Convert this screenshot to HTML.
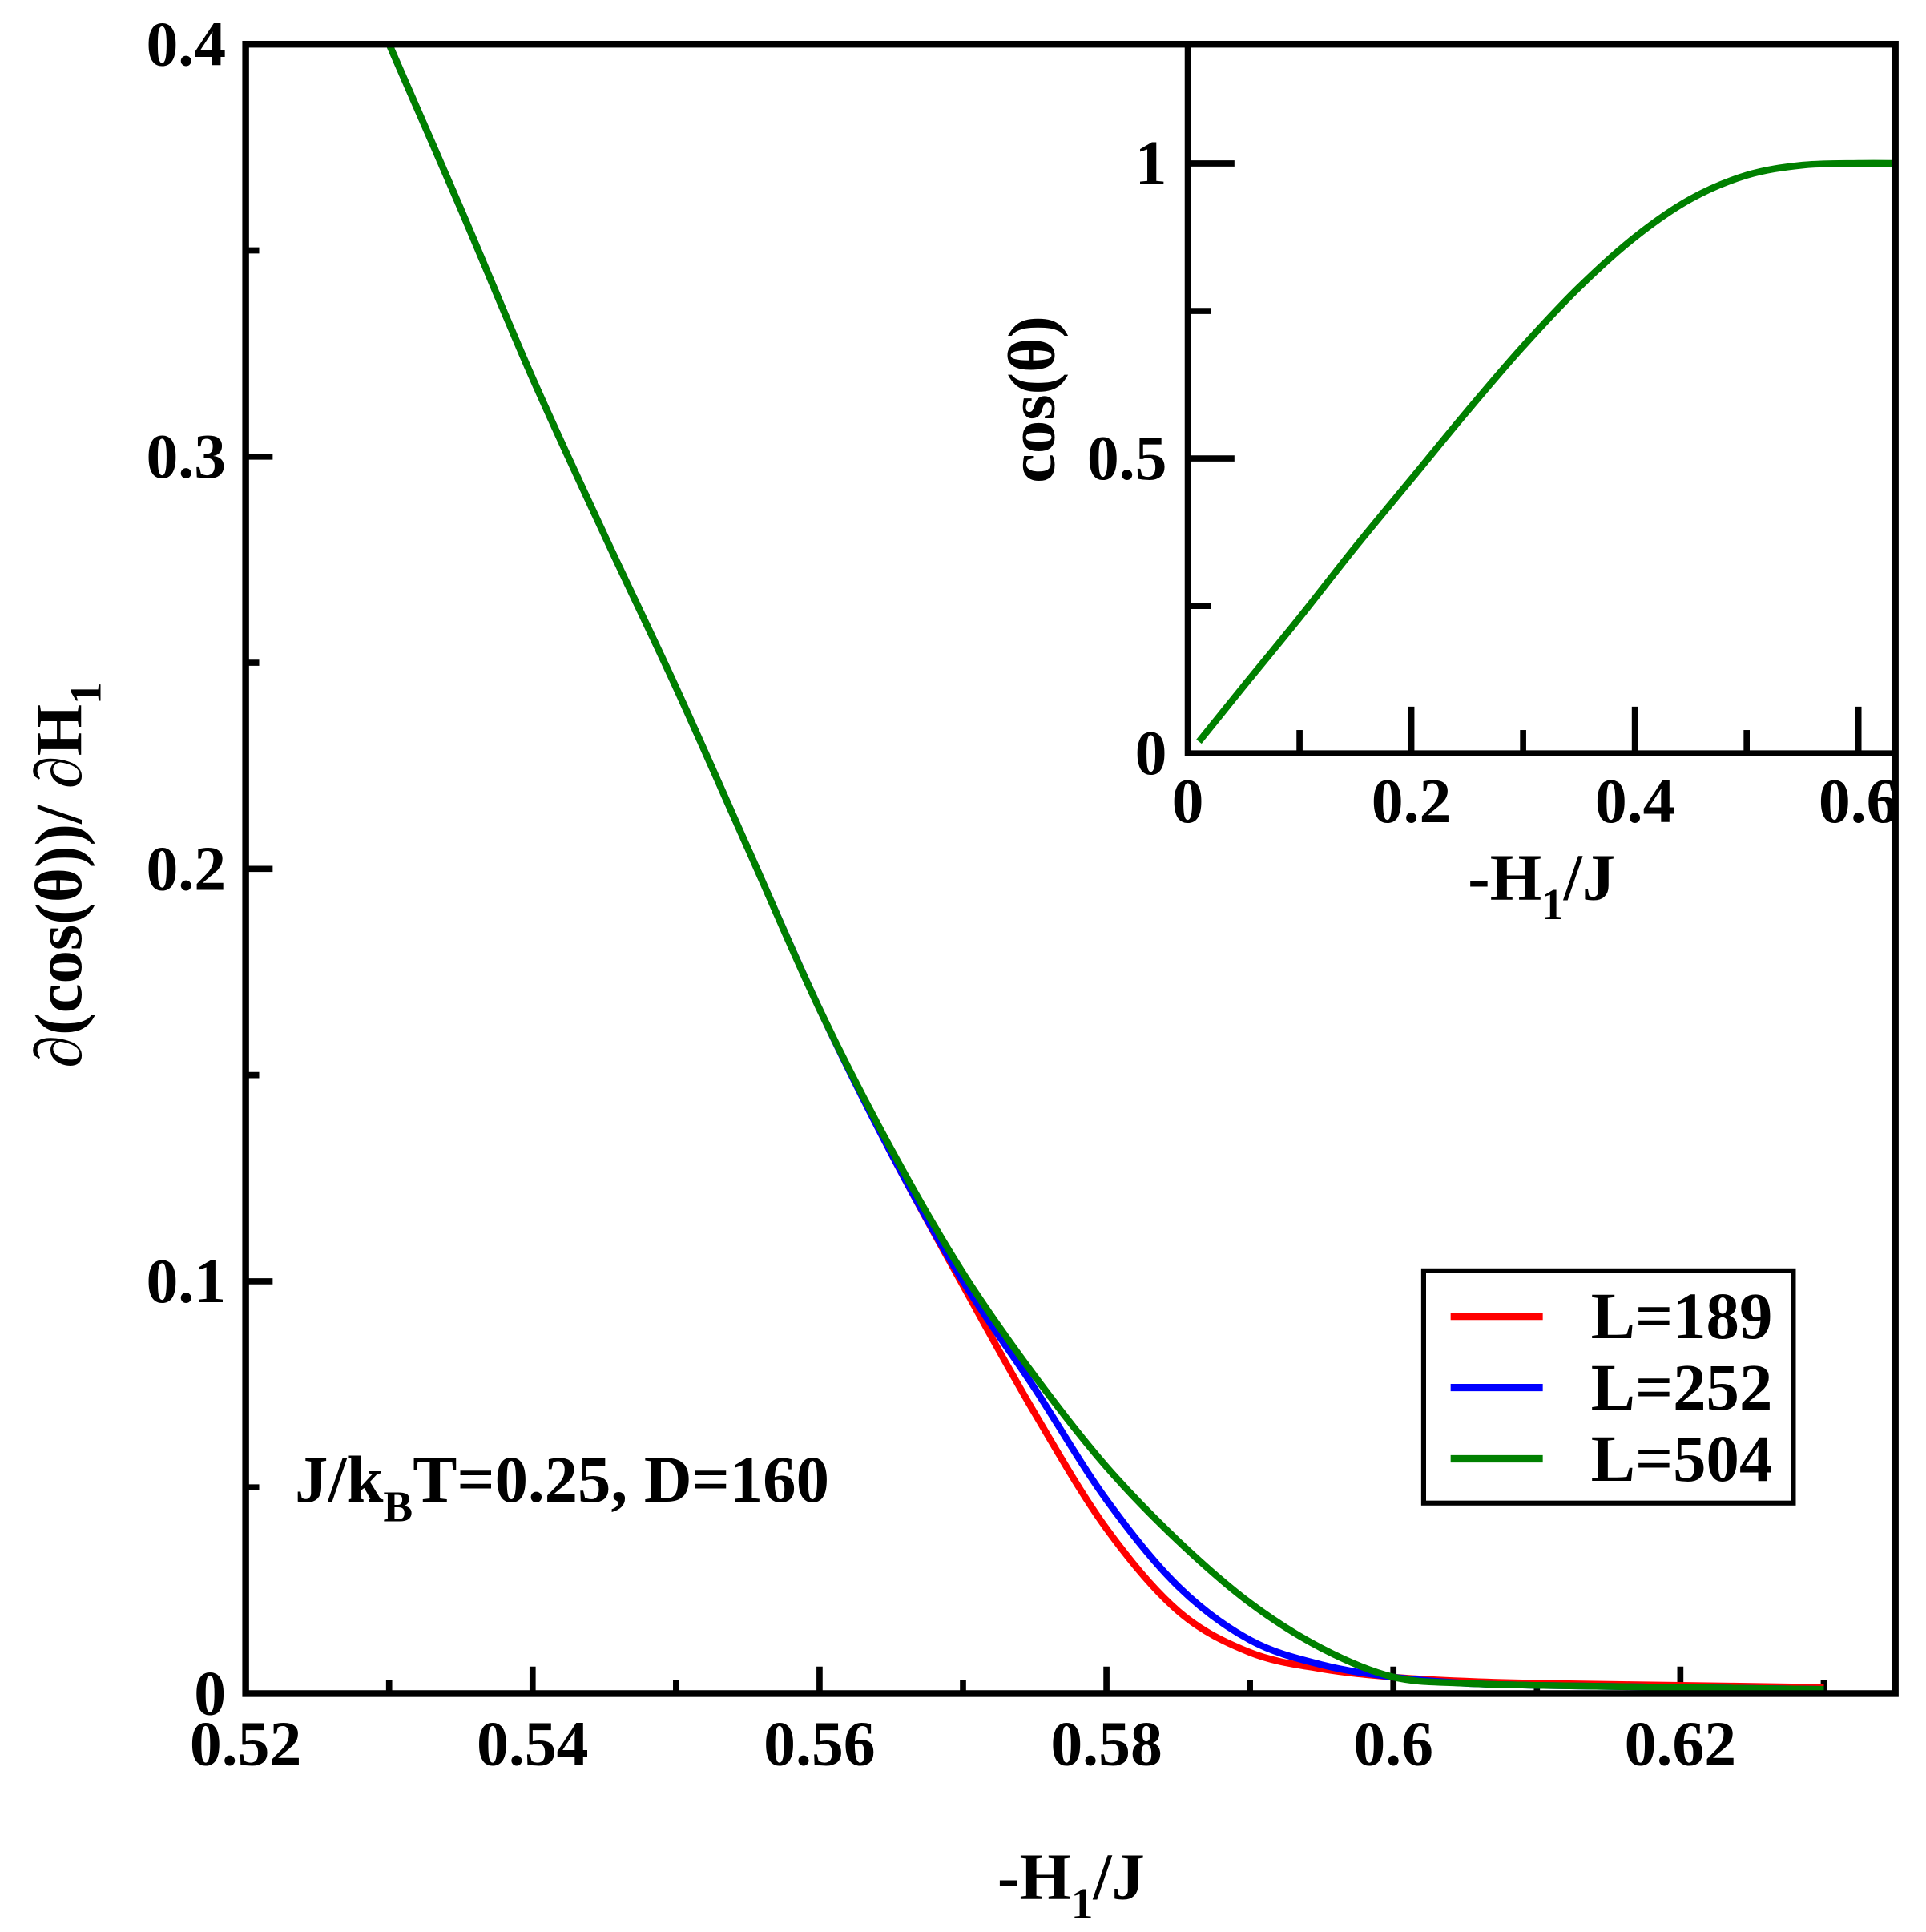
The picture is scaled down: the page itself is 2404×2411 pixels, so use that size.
<!DOCTYPE html>
<html><head><meta charset="utf-8"><style>
html,body{margin:0;padding:0;background:#fff;}
svg{display:block;}
text{font-family:"Liberation Serif",serif;font-weight:bold;fill:#000;}
</style></head><body>
<svg id="chart" width="2404" height="2411" viewBox="0 0 1568 1572" preserveAspectRatio="none" xmlns="http://www.w3.org/2000/svg">
<g id="main"></g>
<g id="inset"></g>
<g id="top"></g>
</svg>
<script>
const mainX = [0.53,0.535,0.54,0.545,0.55,0.555,0.56,0.565,0.57,0.575,0.58,0.585,0.59,0.595,0.6,0.605,0.61,0.62,0.63];
const greenVals = [0.4,0.36,0.319,0.281,0.244,0.205,0.166,0.132,0.102,0.077,0.055,0.037,0.022,0.011,0.004,0.0025,0.002,0.0015,0.001];
const blueVals  = [0.4,0.36,0.319,0.281,0.244,0.205,0.166,0.131,0.1,0.074,0.047,0.026,0.013,0.007,0.004,0.0025,0.002,0.0015,0.001];
const redVals   = [0.4,0.36,0.319,0.281,0.244,0.205,0.166,0.131,0.099,0.068,0.040,0.020,0.010,0.006,0.004,0.003,0.0025,0.002,0.0015];
const mainXTicks = [0.52,0.54,0.56,0.58,0.6,0.62];
const mainXTickLabels = ["0.52","0.54","0.56","0.58","0.6","0.62"];
const mainYTicks = [0,0.1,0.2,0.3,0.4];
const mainYTickLabels = ["0","0.1","0.2","0.3","0.4"];
const insetX = [0.01,0.05,0.1,0.15,0.2,0.25,0.3,0.35,0.4,0.45,0.5,0.55,0.6,0.633];
const insetVals = [0.02,0.114,0.23,0.35,0.465,0.58,0.69,0.79,0.875,0.94,0.98,0.997,1.0,1.0];
const insetXTicks = [0,0.2,0.4,0.6];
const insetXTickLabels = ["0","0.2","0.4","0.6"];
const insetYTicks = [0,0.5,1];
const insetYTickLabels = ["0","0.5","1"];

const NS="http://www.w3.org/2000/svg";
function mk(parent,tag,attrs,txt){const e=document.createElementNS(NS,tag);for(const k in attrs)e.setAttribute(k,attrs[k]);if(txt!==undefined)e.textContent=txt;parent.appendChild(e);return e;}

const L=200,R=1543,T=36,B=1378;
const xs=v=>L+(v-0.52)/0.01*116.8;
const ys=v=>B-v/0.1*335.5;
const gm=document.getElementById('main');
const gt=document.getElementById('top');
function line(g,x1,y1,x2,y2,w){return mk(g,'line',{x1,y1,x2,y2,stroke:'#000','stroke-width':w});}
for(let v=0.52;v<0.6351;v+=0.01){const x=xs(v);const maj=Math.round(v*100)%2===0;
 const t=line(gm,x,B,x,B-(maj?22:11),5);
 
 }
for(let v=0;v<0.4001;v+=0.05){const y=ys(v);const maj=Math.round(v*100)%10===0;
 const t=line(gm,L,y,L+(maj?22:11),y,5);
 
 }
mainXTicks.forEach((v,i)=>{const t=mk(gm,'text',{x:xs(v),y:1436,'text-anchor':'middle','font-size':52},mainXTickLabels[i]);
 
 });
mainYTicks.forEach((v,i)=>{const t=mk(gm,'text',{x:184,y:ys(v)+17,'text-anchor':'end','font-size':52},mainYTickLabels[i]);
 
 });
function path(g,xa,ya,fx,fy,color,name){
 const P=xa.map((x,i)=>[fx(x),fy(ya[i])]);
 let d='M'+P[0][0].toFixed(1)+','+P[0][1].toFixed(1);
 for(let i=0;i<P.length-1;i++){const p0=P[Math.max(0,i-1)],p1=P[i],p2=P[i+1],p3=P[Math.min(P.length-1,i+2)];
  const c1=[p1[0]+(p2[0]-p0[0])/6,p1[1]+(p2[1]-p0[1])/6],c2=[p2[0]-(p3[0]-p1[0])/6,p2[1]-(p3[1]-p1[1])/6];
  d+='C'+c1.map(n=>n.toFixed(1)).join(',')+' '+c2.map(n=>n.toFixed(1)).join(',')+' '+p2[0].toFixed(1)+','+p2[1].toFixed(1);}
 const p=mk(g,'path',{d,fill:'none',stroke:color,'stroke-width':5.5,'stroke-linejoin':'round'});
 
 return p;}
path(gm,mainX,redVals,xs,ys,'#ff0000','series-l189');
path(gm,mainX,blueVals,xs,ys,'#0000ff','series-l252');
path(gm,mainX,greenVals,xs,ys,'#008000','series-l504');

const xl=mk(gm,'text',{x:872,y:1545,'text-anchor':'middle','font-size':54});


xl.innerHTML='-H<tspan font-size="36" dy="16">1</tspan><tspan dy="-16">/J</tspan>';
const yl=mk(gm,'text',{x:0,y:0,'text-anchor':'middle','font-size':54,transform:'translate(66,712) rotate(-90)'});


yl.innerHTML='∂(cos(θ))/ ∂H<tspan font-size="36" dy="16">1</tspan>';
const an=mk(gm,'text',{x:240,y:1222,'font-size':54});


an.innerHTML='J/k<tspan font-size="36" dy="16">B</tspan><tspan dy="-16">T=0.25, D=160</tspan>';

const lg=mk(gm,'g',{});


mk(lg,'rect',{x:1159,y:1034,width:301,height:189,fill:'#fff',stroke:'#000','stroke-width':4});
[['#ff0000','L=189',1071],['#0000ff','L=252',1129],['#008000','L=504',1187]].forEach(([c,t,y])=>{
 const e=mk(lg,'g',{});
 
 
 mk(e,'line',{x1:1181,y1:y,x2:1256,y2:y,stroke:c,'stroke-width':6});
 mk(e,'text',{x:1443,y:y+18,'text-anchor':'end','font-size':54},t);});

const gi=document.getElementById('inset');
const IL=967,IR=1543,IT=36,IB=613;
const ixs=v=>IL+v/0.1*91;
const iys=v=>IB-v*480;
mk(gi,'rect',{x:IL,y:IT,width:IR-IL,height:IB-IT,fill:'#fff'});
for(let v=0.1;v<0.6351;v+=0.1){const x=ixs(v);const maj=Math.round(v*10)%2===0;
 const t=line(gi,x,IB,x,IB-(maj?38:19),5);
 
 }
for(let v=0.25;v<1.2;v+=0.25){const y=iys(v);const maj=Math.round(v*100)%50===0;
 const t=line(gi,IL,y,IL+(maj?38:19),y,5);
 
 }
insetXTicks.forEach((v,i)=>{const t=mk(gi,'text',{x:ixs(v),y:669,'text-anchor':'middle','font-size':52},insetXTickLabels[i]);
 
 });
insetYTicks.forEach((v,i)=>{const t=mk(gi,'text',{x:950,y:iys(v)+17,'text-anchor':'end','font-size':52},insetYTickLabels[i]);
 
 });
path(gi,insetX,insetVals,ixs,iys,'#008000','inset-series');
const ifr=mk(gi,'polyline',{points:`${IL},${IT} ${IL},${IB} ${IR},${IB}`,fill:'none',stroke:'#000','stroke-width':5});


const ixl=mk(gi,'text',{x:1255,y:732,'text-anchor':'middle','font-size':54});


ixl.innerHTML='-H<tspan font-size="36" dy="16">1</tspan><tspan dy="-16">/J</tspan>';
const iyl=mk(gi,'text',{x:0,y:0,'text-anchor':'middle','font-size':54,transform:'translate(858,325) rotate(-90)'},'cos(θ)');



const fr=mk(gt,'rect',{x:L,y:T,width:R-L,height:B-T,fill:'none',stroke:'#000','stroke-width':5.5});


</script>
</body></html>
